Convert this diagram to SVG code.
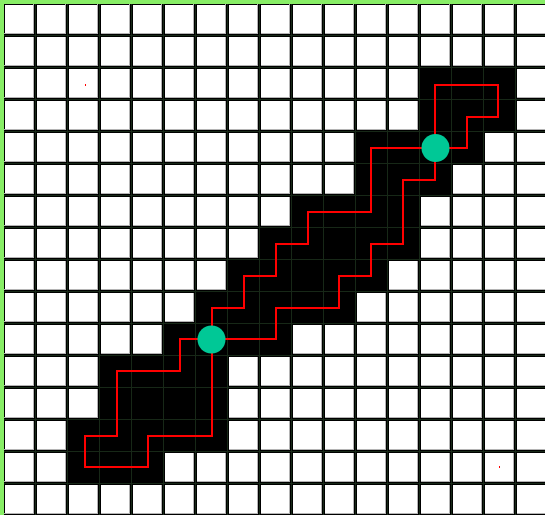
<svg xmlns="http://www.w3.org/2000/svg" width="545" height="515" viewBox="0 0 545 515" shape-rendering="crispEdges">
  <style>
    .wall { fill: #000000; }
    .edge { stroke: #b4b4b4; stroke-width: 1; fill: none; }
    .bl { stroke: #000000; stroke-width: 3; fill: none; }
    .gl { stroke: #172817; stroke-width: 1; fill: none; }
    .route { fill: none; stroke: #ff0000; stroke-width: 2; stroke-linejoin: miter; stroke-linecap: square; }
    .node { fill: #00c896; }
    .mark { fill: #ff0000; }
  </style>

  <g id="grid">
    <rect x="0" y="0" width="545" height="515" fill="#000000"/>
    <rect x="5" y="5" width="540" height="510" fill="#ffffff"/>
    <path class="edge" d="M33.5 0V515M65.5 0V515M97.5 0V515M129.5 0V515M161.5 0V515M193.5 0V515M225.5 0V515M257.5 0V515M289.5 0V515M321.5 0V515M353.5 0V515M385.5 0V515M417.5 0V515M449.5 0V515M481.5 0V515M513.5 0V515"/>
    <path class="edge" d="M0 33.5H545M0 65.5H545M0 97.5H545M0 129.5H545M0 161.5H545M0 193.5H545M0 225.5H545M0 257.5H545M0 289.5H545M0 321.5H545M0 353.5H545M0 385.5H545M0 417.5H545M0 449.5H545M0 481.5H545M0 513.5H545"/>
    <path class="bl" d="M35.5 0V515M67.5 0V515M99.5 0V515M131.5 0V515M163.5 0V515M195.5 0V515M227.5 0V515M259.5 0V515M291.5 0V515M323.5 0V515M355.5 0V515M387.5 0V515M419.5 0V515M451.5 0V515M483.5 0V515M515.5 0V515"/>
    <path class="bl" d="M0 35.5H545M0 67.5H545M0 99.5H545M0 131.5H545M0 163.5H545M0 195.5H545M0 227.5H545M0 259.5H545M0 291.5H545M0 323.5H545M0 355.5H545M0 387.5H545M0 419.5H545M0 451.5H545M0 483.5H545"/>
    <rect x="0" y="514" width="545" height="1" fill="#000000"/>
  </g>

  <g id="obstacles" class="wall">
    <rect x="420" y="68" width="96" height="64"/>
    <rect x="356" y="132" width="128" height="32"/>
    <rect x="356" y="164" width="96" height="32"/>
    <rect x="292" y="196" width="128" height="32"/>
    <rect x="260" y="228" width="160" height="32"/>
    <rect x="228" y="260" width="160" height="32"/>
    <rect x="196" y="292" width="160" height="32"/>
    <rect x="164" y="324" width="128" height="32"/>
    <rect x="100" y="356" width="128" height="64"/>
    <rect x="68" y="420" width="160" height="32"/>
    <rect x="68" y="452" width="96" height="32"/>
  </g>

  <g id="gridlines" class="gl">
    <path d="M35.5 0V515M67.5 0V515M99.5 0V515M131.5 0V515M163.5 0V515M195.5 0V515M227.5 0V515M259.5 0V515M291.5 0V515M323.5 0V515M355.5 0V515M387.5 0V515M419.5 0V515M451.5 0V515M483.5 0V515M515.5 0V515"/>
    <path d="M0 35.5H545M0 67.5H545M0 99.5H545M0 131.5H545M0 163.5H545M0 195.5H545M0 227.5H545M0 259.5H545M0 291.5H545M0 323.5H545M0 355.5H545M0 387.5H545M0 419.5H545M0 451.5H545M0 483.5H545"/>
  </g>

  <g id="border" fill="#88ee66">
    <rect x="0" y="0" width="545" height="4"/>
    <rect x="0" y="0" width="4" height="515"/>
  </g>

  <g id="connectors" shape-rendering="auto">
    <path class="route" d="M435 148H371V212H308V244H276V276H244V308H212V339"/>
    <path class="route" d="M435 148V85H498V117H467V148H435"/>
    <path class="route" d="M435 148V180H403V244H371V276H339V308H276V339H212"/>
    <path class="route" d="M212 339H180V371H117V436H85V467H148V436H212V339"/>
    <rect class="mark" x="85" y="84" width="1" height="2"/>
    <rect class="mark" x="499" y="466" width="1" height="2"/>
  </g>

  <g id="node-upper" shape-rendering="auto">
    <circle class="node" cx="435.5" cy="148" r="14"/>
  </g>
  <g id="node-lower" shape-rendering="auto">
    <circle class="node" cx="211.5" cy="339.5" r="14"/>
  </g>
</svg>
